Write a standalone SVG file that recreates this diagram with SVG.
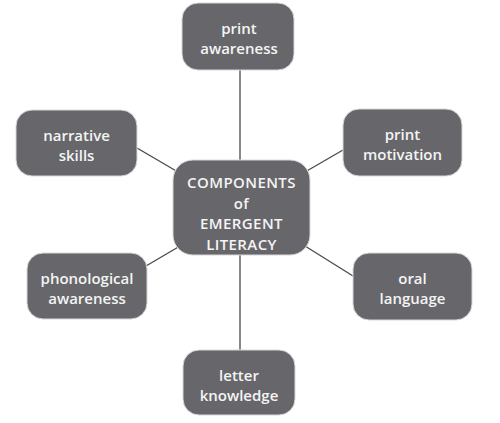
<svg xmlns="http://www.w3.org/2000/svg" width="500" height="423" viewBox="0 0 500 423">
<style>
.box{fill:#67676b;stroke:#d8d8d8;stroke-width:1}
.t{font-family:"Open Sans",Lato,sans-serif;font-weight:600;font-size:15px;fill:#f4f4f4;text-anchor:middle}
.c{font-size:15px;letter-spacing:0.4px}
.ln{stroke:#4a4a4a;stroke-width:1.3;fill:none}
</style>
<rect width="500" height="423" fill="#ffffff"/>
<g id="connectors">
<line class="ln" x1="240" y1="70" x2="240" y2="161"/>
<line class="ln" x1="240" y1="254" x2="240" y2="350"/>
<line class="ln" x1="137" y1="148" x2="178" y2="172"/>
<line class="ln" x1="343" y1="150" x2="305" y2="172"/>
<line class="ln" x1="146" y1="266" x2="180" y2="246"/>
<line class="ln" x1="353" y1="276" x2="305" y2="246"/>
</g>
<g id="center">
<rect class="box" x="173" y="160" width="137" height="95" rx="20"/>
<text class="t c" x="241.5" y="188">COMPONENTS</text>
<text class="t c" x="241.5" y="208.5">of</text>
<text class="t c" x="241.5" y="229">EMERGENT</text>
<text class="t c" x="241.5" y="249.5">LITERACY</text>
</g>
<g id="print-awareness">
<rect class="box" x="182" y="3" width="112" height="67" rx="16"/>
<text class="t" x="239" y="34">print</text>
<text class="t" x="239" y="54">awareness</text>
</g>
<g id="narrative-skills">
<rect class="box" x="16" y="110" width="121" height="66" rx="16"/>
<text class="t" x="76.5" y="141">narrative</text>
<text class="t" x="76.5" y="161">skills</text>
</g>
<g id="print-motivation">
<rect class="box" x="343" y="109" width="119" height="67" rx="16"/>
<text class="t" x="402.5" y="140">print</text>
<text class="t" x="402.5" y="160">motivation</text>
</g>
<g id="phonological-awareness">
<rect class="box" x="27" y="253" width="120" height="66" rx="16"/>
<text class="t" x="87" y="284">phonological</text>
<text class="t" x="87" y="304">awareness</text>
</g>
<g id="oral-language">
<rect class="box" x="353" y="253" width="119" height="67" rx="16"/>
<text class="t" x="412.5" y="284">oral</text>
<text class="t" x="412.5" y="304">language</text>
</g>
<g id="letter-knowledge">
<rect class="box" x="183" y="350" width="112" height="65" rx="16"/>
<text class="t" x="239" y="381">letter</text>
<text class="t" x="239" y="401">knowledge</text>
</g>
</svg>
